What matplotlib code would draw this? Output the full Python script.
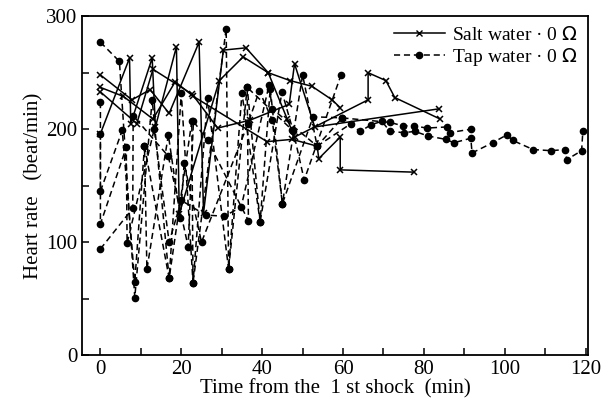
import matplotlib
matplotlib.use("Agg")
import matplotlib.pyplot as plt
from matplotlib.ticker import MultipleLocator
from matplotlib.lines import Line2D

plt.rcParams['font.family'] = ['Liberation Serif', 'DejaVu Serif']

# Salt water traces (time min, heart rate beat/min)
salt1_t = [0, 5.7, 13.0, 18.5, 23.0, 41.2, 47.4, 53.6, 54.0, 59.3, 59.3, 77.5]
salt1_v = [237, 229, 209, 242, 229, 189, 191, 185, 174, 193, 164, 162]
salt2_t = [0, 7.2, 7.5, 12.8, 13.6, 18.8, 19.5, 29.4, 35.3, 41.5, 46.9, 52.3, 57.3, 59.3]
salt2_v = [196, 263, 205, 263, 202, 273, 125, 243, 264, 250, 243, 238, 226, 219]
salt3_t = [0, 7.8, 12.3, 17.0, 24.4, 25.5, 30.4, 36.0, 41.5, 46.2, 48.0, 66.2, 66.2, 70.6, 72.8, 84.0]
salt3_v = [248, 226, 235, 214, 277, 126, 270, 272, 250, 209, 193, 226, 250, 243, 228, 209]
salt4_t = [0, 9.0, 13.0, 22.7, 29.0, 37.0, 46.7, 48.0, 53.0, 83.7]
salt4_v = [233, 205, 253, 231, 201, 208, 222, 258, 202, 218]

# Tap water traces
tap1_t = [0, 4.7, 8.5, 12.8, 17.0, 22.6, 22.9, 31.1, 31.7, 36.3, 39.5, 44.9, 47.7, 50.4, 59.5]
tap1_v = [277, 260, 51, 226, 68, 207, 64, 289, 76, 237, 118, 233, 198, 155, 248]
tap2_t = [0, 0, 5.4, 8.5, 10.9, 11.5, 16.8, 19.8, 20.7, 25.0, 36.5, 39.3, 42.5, 45.0, 52.6,
          59.8, 64.2, 67.0, 69.6, 71.6, 75.0, 77.8, 81.0, 85.4, 87.4, 91.6, 91.9, 97.0,
          100.5, 102.0, 107.0, 111.4, 115.0, 115.3, 119.0, 119.3]
tap2_v = [224, 145, 199, 65, 185, 76, 195, 121, 170, 100, 205, 234, 208, 134, 211,
          210, 198, 204, 207, 198, 197, 198, 194, 191, 188, 192, 179, 188,
          195, 190, 182, 181, 182, 173, 181, 198]
tap3_t = [0, 0, 6.4, 6.6, 13.3, 17.0, 20.0, 26.0, 30.6, 34.8, 41.7, 42.5, 53.6, 59.8,
          71.6, 74.8, 77.5, 80.7, 85.7, 86.4, 91.6]
tap3_v = [196, 116, 184, 99, 200, 100, 137, 124, 123, 131, 239, 218, 185, 210,
          206, 203, 203, 201, 202, 197, 200]
tap4_t = [0, 8.0, 8.1, 16.8, 21.7, 23.0, 26.5, 36.6, 36.3, 47.5]
tap4_v = [94, 130, 212, 176, 96, 207, 190, 119, 237, 199]
tap5_t = [10.9, 17.0, 20.0, 22.9, 26.5, 31.7, 35.0, 39.5, 42.0, 45.0, 50.0, 53.6, 62.0]
tap5_v = [185, 68, 232, 64, 228, 76, 232, 118, 236, 134, 248, 185, 205]

fig = plt.figure(figsize=(6.09, 4.05), dpi=100)
ax = fig.add_axes([0.135, 0.123, 0.83, 0.837])

dash = (0, (4, 2.5))
for t, v in [(salt1_t, salt1_v), (salt2_t, salt2_v), (salt3_t, salt3_v), (salt4_t, salt4_v)]:
    ax.plot(t, v, color='black', lw=1.1, ls='-', marker='x', ms=5, mew=1.1)
for t, v in [(tap1_t, tap1_v), (tap2_t, tap2_v), (tap3_t, tap3_v), (tap4_t, tap4_v), (tap5_t, tap5_v)]:
    ax.plot(t, v, color='black', lw=1.1, ls=dash, marker='o', ms=4.5)

ax.set_xlim(-4.5, 120.5)
ax.set_ylim(0, 300)
ax.xaxis.set_major_locator(MultipleLocator(20))
ax.xaxis.set_minor_locator(MultipleLocator(10))
ax.yaxis.set_major_locator(MultipleLocator(100))
ax.yaxis.set_minor_locator(MultipleLocator(50))
ax.tick_params(which='both', direction='in', labelsize=15, length=5, width=1.1)
for s in ax.spines.values():
    s.set_linewidth(1.3)
ax.set_xlabel('Time from the  1 st shock  (min)', fontsize=15, labelpad=0)
ax.set_ylabel('Heart rate   (beat/min)', fontsize=15, labelpad=2)

h1 = Line2D([], [], color='black', lw=1.1, marker='x', ms=5)
h2 = Line2D([], [], color='black', lw=1.1, ls=dash, marker='o', ms=4.5)
ax.legend([h1, h2], ['Salt water \u00b7 0 $\\it{\\Omega}$', 'Tap water \u00b7 0 $\\it{\\Omega}$'],
          loc='upper right', frameon=False, fontsize=14, handlelength=2.6,
          borderaxespad=0.1, labelspacing=0.1, handletextpad=0.4)

fig.savefig('out.png', dpi=100)
